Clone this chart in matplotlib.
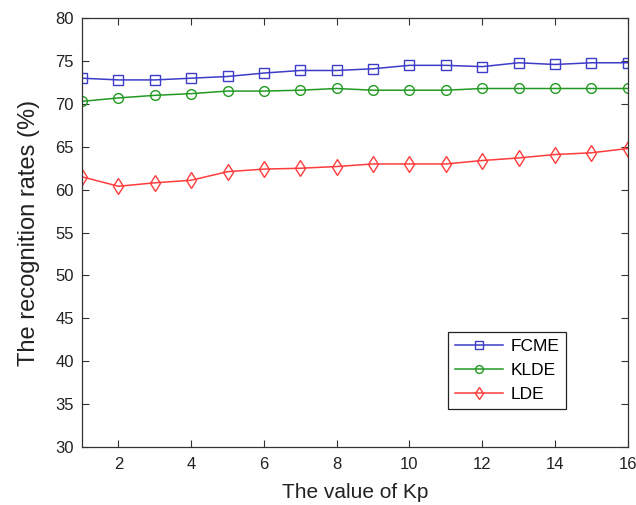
import matplotlib

matplotlib.use("Agg")
import matplotlib.pyplot as plt

plt.rcParams["font.family"] = ["Liberation Sans", "DejaVu Sans"]

kp = list(range(1, 17))
fcme = [73.0, 72.8, 72.8, 73.0, 73.2, 73.6, 73.9, 73.9, 74.1, 74.5, 74.5, 74.35, 74.8, 74.6, 74.8, 74.8]
klde = [70.3, 70.7, 71.0, 71.2, 71.5, 71.5, 71.6, 71.8, 71.6, 71.6, 71.6, 71.8, 71.8, 71.8, 71.8, 71.8]
lde = [61.5, 60.4, 60.8, 61.1, 62.1, 62.4, 62.5, 62.7, 63.0, 63.0, 63.0, 63.4, 63.7, 64.1, 64.3, 64.8]
x_ticks = list(range(2, 17, 2))
y_ticks = list(range(30, 81, 5))

fig = plt.figure(figsize=(6.36, 5.05), dpi=100)
ax = fig.add_axes([0.129, 0.115, 0.858, 0.849])

ax.plot(kp, fcme, color="#3c3cc8", marker="s", markersize=7, mfc="none", lw=1.1, label="FCME")
ax.plot(kp, klde, color="#229a22", marker="o", markersize=7, mfc="none", lw=1.1, label="KLDE")
ax.plot(kp, lde, color="#ff3c3c", marker="d", markersize=8, mfc="none", lw=1.1, label="LDE")

ax.set_xlim(1, 16)
ax.set_ylim(30, 80)
ax.set_xticks(x_ticks)
ax.set_yticks(y_ticks)
ax.tick_params(direction="in", top=True, right=True, labelsize=12, length=5,
               color="#333333", labelcolor="#222222")
ax.tick_params(axis="x", pad=7)
ax.tick_params(axis="y", pad=6)
for s in ax.spines.values():
    s.set_linewidth(0.9)
    s.set_color("#333333")
ax.set_xlabel("The value of Kp", fontsize=15, labelpad=8, color="#222222")
ax.set_ylabel("The recognition rates (%)", fontsize=17, labelpad=11, color="#222222")

leg = ax.legend(loc="upper left", bbox_to_anchor=(0.670, 0.268), fontsize=12.5,
                fancybox=False, edgecolor="#222222", framealpha=1, handlelength=2.8,
                handletextpad=0.4, labelspacing=0.5, borderpad=0.4, borderaxespad=0,
                markerscale=0.8)
leg.get_frame().set_linewidth(0.9)

fig.savefig("out.png", dpi=100)
